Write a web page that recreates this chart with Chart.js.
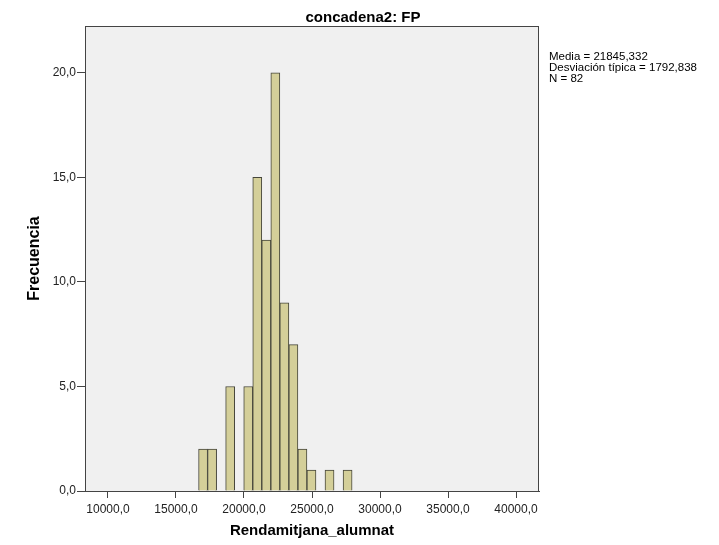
<!DOCTYPE html>
<html>
<head>
<meta charset="utf-8">
<title>concadena2: FP</title>
<script src="https://cdn.jsdelivr.net/npm/chart.js@4"></script>
<style>
  html, body { margin: 0; padding: 0; background: #fff; }
  #wrap { width: 719px; height: 545px; position: relative; }
</style>
</head>
<body>
<div id="wrap"><canvas id="hist"></canvas></div>
<script>
// histogram data
const binLow = [16660, 17324, 17988, 18652, 19316, 19980, 20644, 21308, 21972, 22636, 23300, 23964, 24628, 25292, 25956, 26620, 27284];
const binWidth = 664;
const counts = [2, 2, 0, 5, 0, 5, 15, 12, 20, 9, 7, 2, 1, 0, 1, 0, 1];

const xTicks = [10000, 15000, 20000, 25000, 30000, 35000, 40000];
const yTicks = [0, 5, 10, 15, 20];

const chartTitle = 'concadena2: FP';
const statsLines = ['Media = 21845,332', 'Desviación típica = 1792,838', 'N = 82'];

const frameColor = '#444';
const fmt = v => v.toFixed(1).replace('.', ',');

// gray plot background + frame + title + stats text
const decor = {
  id: 'decor',
  beforeDraw(chart) {
    const { ctx, chartArea: a } = chart;
    ctx.save();
    ctx.fillStyle = '#f0f0f0';
    ctx.fillRect(a.left, a.top, a.right - a.left, a.bottom - a.top);
    ctx.restore();
  },
  afterDraw(chart) {
    const { ctx, chartArea: a } = chart;
    ctx.save();
    ctx.strokeStyle = frameColor;
    ctx.lineWidth = 1;
    ctx.strokeRect(a.left + 0.5, a.top + 0.5, a.right - a.left - 1, a.bottom - a.top);

    ctx.fillStyle = '#000';
    ctx.font = 'bold 15px "Liberation Sans", Arial, sans-serif';
    ctx.textAlign = 'center';
    ctx.textBaseline = 'alphabetic';
    ctx.fillText(chartTitle, 363, 22);

    ctx.font = '11.5px "Liberation Sans", Arial, sans-serif';
    ctx.textAlign = 'left';
    statsLines.forEach((s, i) => ctx.fillText(s, 549, 60 + i * 11));
    ctx.restore();
  }
};

new Chart(document.getElementById('hist'), {
  type: 'bar',
  data: {
    datasets: [{
      data: binLow.map((lo, i) => ({ x: lo + binWidth / 2, y: counts[i] })),
      backgroundColor: '#d4cf99',
      borderColor: '#45453a',
      borderWidth: 1,
      barPercentage: 1,
      categoryPercentage: 1
    }]
  },
  options: {
    responsive: true,
    maintainAspectRatio: false,
    animation: false,
    layout: { padding: { top: 26, right: 180, left: 0, bottom: 0 } },
    plugins: { legend: { display: false }, tooltip: { enabled: false } },
    scales: {
      x: {
        type: 'linear',
        offset: false,
        min: 8309,
        max: 41691,
        afterFit: s => { s.height = 54; },
        afterBuildTicks: s => { s.ticks = xTicks.map(v => ({ value: v })); },
        grid: { offset: false, drawOnChartArea: false, drawTicks: true, tickLength: 7, color: frameColor },
        border: { display: true, color: frameColor },
        ticks: {
          padding: 4,
          color: '#222',
          font: { family: '"Liberation Sans", Arial, sans-serif', size: 12 },
          maxRotation: 0,
          callback: v => fmt(v)
        },
        title: {
          display: true,
          text: 'Rendamitjana_alumnat',
          color: '#000',
          font: { family: '"Liberation Sans", Arial, sans-serif', size: 15, weight: 'bold' },
          padding: { top: 0, bottom: 5.5 }
        }
      },
      y: {
        min: 0,
        max: 22.24,
        afterFit: s => { s.width = 85; },
        afterBuildTicks: s => { s.ticks = yTicks.map(v => ({ value: v })); },
        grid: { drawOnChartArea: false, drawTicks: true, tickLength: 8, color: frameColor },
        border: { display: true, color: frameColor },
        ticks: {
          padding: 1,
          color: '#222',
          font: { family: '"Liberation Sans", Arial, sans-serif', size: 12 },
          callback: v => fmt(v)
        },
        title: {
          display: true,
          text: 'Frecuencia',
          color: '#000',
          font: { family: '"Liberation Sans", Arial, sans-serif', size: 16, weight: 'bold' },
          padding: { top: 25.4, bottom: 0 }
        }
      }
    }
  },
  plugins: [decor]
});
</script>
</body>
</html>
